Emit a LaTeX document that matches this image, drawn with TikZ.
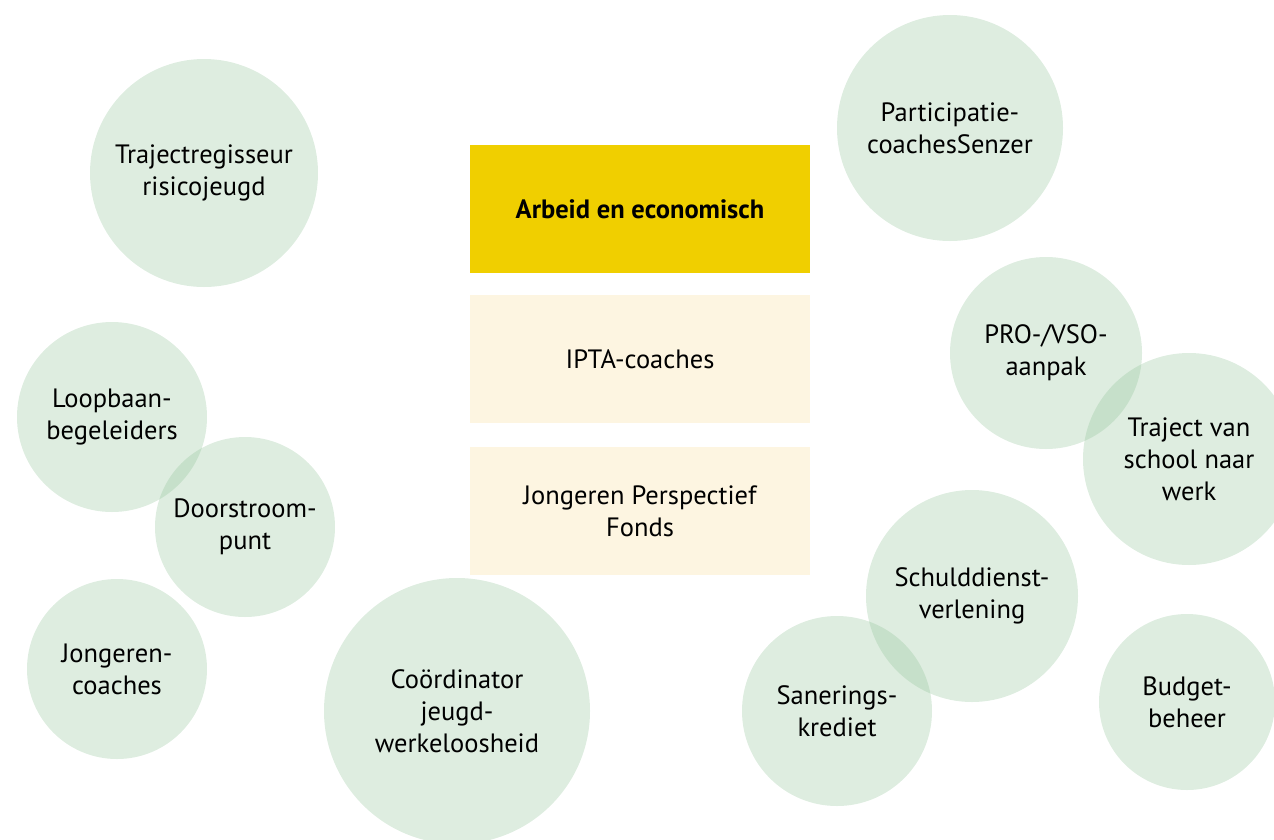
\documentclass[tikz,border=0pt]{standalone}
\usepackage{fontspec}
\setmainfont{PT Sans}
\usepackage{xcolor}
\usepackage{tikz}
\definecolor{bubble}{RGB}{145,195,152}
\definecolor{headyellow}{RGB}{240,207,0}
\definecolor{cream}{RGB}{253,245,225}

\begin{document}
\begin{tikzpicture}[x=1pt, y=-1pt,
  bub/.style={circle, fill=bubble, fill opacity=0.3, text opacity=1,
              align=center, inner sep=0pt, font=\fontsize{26.5}{32}\selectfont},
  head/.style={rectangle, fill=headyellow, align=center, minimum width=340pt,
               minimum height=128pt, font=\fontsize{26.5}{32}\selectfont\bfseries},
  item/.style={rectangle, fill=cream, align=center, minimum width=340pt,
               minimum height=128pt, font=\fontsize{26.5}{32}\selectfont}]
\useasboundingbox (0,0) rectangle (1274,839);
\node[head] (arbeid) at (640,209) {Arbeid en economisch};
\node[item] (ipta) at (640,359) {IPTA-coaches};
\node[item] (jpf) at (640,511) {Jongeren Perspectief\\Fonds};
\node[bub, minimum size=228pt] (regisseur) at (204,173) {Trajectregisseur\\risicojeugd};
\node[bub, minimum size=190pt] (loopbaan) at (112,417) {Loopbaan-\\begeleiders};
\node[bub, minimum size=180pt] (doorstroom) at (245,527) {Doorstroom-\\punt};
\node[bub, minimum size=180pt] (jcoaches) at (117,669) {Jongeren-\\coaches};
\node[bub, minimum size=266pt] (coordinator) at (457,711) {Coördinator\\jeugd-\\werkeloosheid};
\node[bub, minimum size=226pt] (participatie) at (950,128) {Participatie-\\coachesSenzer};
\node[bub, minimum size=192pt] (provso) at (1046,353) {PRO-/VSO-\\aanpak};
\node[bub, minimum size=212pt] (school) at (1189,459) {Traject van\\school naar\\werk};
\node[bub, minimum size=212pt] (schuld) at (972,596) {Schulddienst-\\verlening};
\node[bub, minimum size=190pt] (sanering) at (837,711) {Sanerings-\\krediet};
\node[bub, minimum size=176pt] (budget) at (1187,702) {Budget-\\beheer};
\end{tikzpicture}
\end{document}
